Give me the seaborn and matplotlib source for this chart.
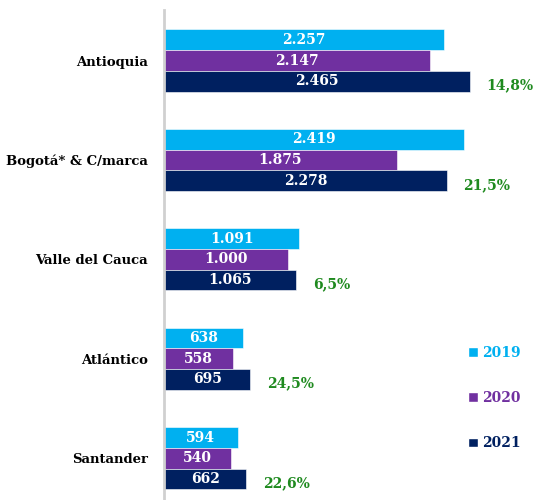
import pandas as pd
import seaborn as sns
import matplotlib.pyplot as plt
from matplotlib.patches import Patch

# Data
regions = ['Antioquia', 'Bogotá* & C/marca', 'Valle del Cauca', 'Atlántico', 'Santander']
years = ['2019', '2020', '2021']
v2019 = [2257, 2419, 1091, 638, 594]
v2020 = [2147, 1875, 1000, 558, 540]
v2021 = [2465, 2278, 1065, 695, 662]
growth = ['14,8%', '21,5%', '6,5%', '24,5%', '22,6%']
colors = ['#00B0F0', '#7030A0', '#002060']
green = '#1F8A1F'

df = pd.DataFrame({
    'region': regions * 3,
    'year': [y for y in years for _ in regions],
    'value': v2019 + v2020 + v2021,
})

sns.set_style('white')
plt.rcParams['font.family'] = ['DejaVu Serif']

fig = plt.figure(figsize=(5.35, 5.0), dpi=100)
ax = fig.add_axes([164 / 535, 0.0, 1 - 164 / 535, 0.98])

sns.barplot(data=df, x='value', y='region', hue='year', order=regions,
            hue_order=years, palette=colors, saturation=1, orient='h',
            width=0.624, edgecolor='white', linewidth=0.4, legend=False, ax=ax)

# white value labels inside the bars
for cont in ax.containers:
    labels = [f'{int(v):,}'.replace(',', '.') for v in cont.datavalues]
    ax.bar_label(cont, labels=labels, label_type='center', color='white',
                 fontweight='bold', fontsize=10)

# green growth labels next to the 2021 bars
for bar, txt in zip(ax.containers[2], growth):
    ax.annotate(txt, xy=(bar.get_width(), bar.get_y() + bar.get_height() / 2),
                xytext=(12, -3), textcoords='offset points', va='center',
                ha='left', color=green, fontweight='bold', fontsize=10)

ax.set_xlim(0, 2990)
ax.set_ylim(4.42, -0.508)
ax.set_xlabel('')
ax.set_ylabel('')
ax.set_xticks([])
ax.tick_params(axis='y', length=0, pad=11.5)
for lab in ax.get_yticklabels():
    lab.set_fontweight('bold')
    lab.set_fontsize(9.5)
    lab.set_color('black')
for s in ['top', 'right', 'bottom']:
    ax.spines[s].set_visible(False)
ax.spines['left'].set_color('#d0d0d0')
ax.spines['left'].set_linewidth(2)

handles = [Patch(facecolor=c) for c in colors]
leg = ax.legend(handles, years, loc='upper left',
                bbox_to_anchor=(0.787, 0.34), frameon=False,
                handlelength=0.7, handleheight=0.7, handletextpad=0.25,
                labelspacing=2.25, labelcolor=colors,
                prop={'weight': 'bold', 'size': 10})

fig.savefig('out.png', dpi=100)
